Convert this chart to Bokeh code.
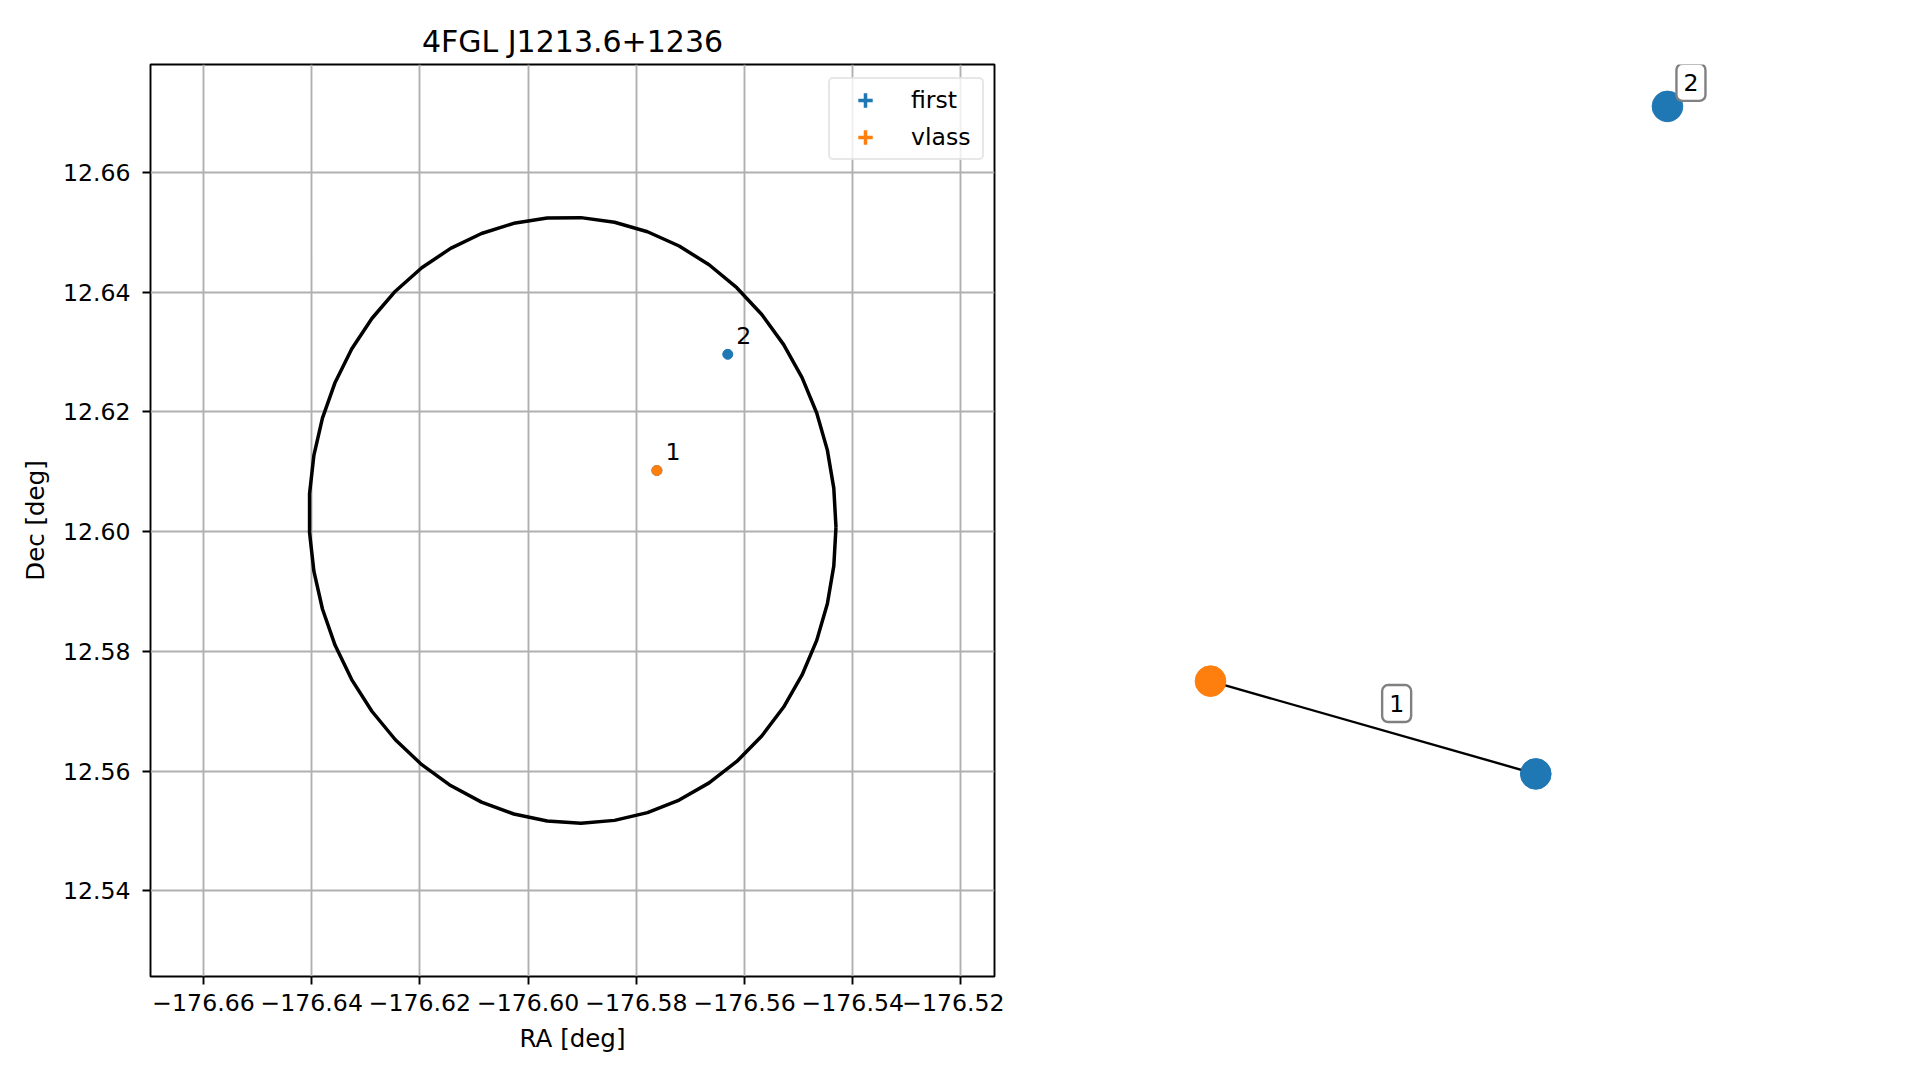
import numpy as np
from bokeh.plotting import figure
from bokeh.models import Range1d, Legend, LegendItem, Label, ColumnDataSource, FixedTicker
from bokeh.layouts import row
from bokeh.embed import file_html
from bokeh.resources import INLINE
from bokeh.core.properties import value

# ---------------- data ----------------
TITLE = "4FGL J1213.6+1236"
first_ra = [-176.5762, -176.5631]
first_dec = [12.6102, 12.6296]
first_ids = ["1", "2"]
vlass_ra = [-176.5762]
vlass_dec = [12.6102]
vlass_ids = ["1"]

# 95% confidence ellipse of the 4FGL source
ell_center_ra = -176.5918
ell_center_dec = 12.6019
ell_half_ra = 0.0487      # half width in RA
ell_half_dec = 0.05059    # half height in Dec
ell_tilt_dec = -0.00117   # Dec offset of the RA-extreme points (tilt)
ell_npts = 50

x_ticks = [-176.66, -176.64, -176.62, -176.60, -176.58, -176.56, -176.54, -176.52]
y_ticks = [12.54, 12.56, 12.58, 12.60, 12.62, 12.64, 12.66]
x_lim = (-176.6698, -176.5138)
y_lim = (12.5257, 12.6780)

# match graph (layout positions of nodes)
node_names = ["vlass 1", "first 1", "first 2"]
node_kind = ["vlass", "first", "first"]
node_x = [-1.0, 0.413, 0.985]
node_y = [-0.722, -1.0, 1.0]
edge_src = [0, 2]
edge_dst = [1, 2]
edge_labels = ["1", "2"]

BLUE = "#1f77b4"
ORANGE = "#ff7f0e"
FONT = "DejaVu Sans"
FS = "23.6px"
FS_LAB = "24.5px"

# ---------------- left panel ----------------
p = figure(width=1004, height=1063, output_backend="svg", toolbar_location=None,
           x_range=Range1d(*x_lim), y_range=Range1d(*y_lim),
           min_border_left=150, min_border_right=10, min_border_top=64, min_border_bottom=87,
           title=TITLE)
p.title.align = "center"
p.title.text_font = FONT
p.title.text_font_size = "30px"
p.title.text_font_style = "normal"
p.title.text_color = "black"
p.title.standoff = 11

p.outline_line_color = "black"
p.outline_line_width = 1.9
p.outline_line_alpha = 1.0

p.xaxis.ticker = FixedTicker(ticks=x_ticks)
p.yaxis.ticker = FixedTicker(ticks=y_ticks)
p.xaxis.major_label_overrides = {t: ("\u2212%.2f" % abs(t)) for t in x_ticks}
p.yaxis.major_label_overrides = {t: ("%.2f" % t) for t in y_ticks}
p.xaxis.axis_label = "RA [deg]"
p.yaxis.axis_label = "Dec [deg]"
for ax in (p.xaxis[0], p.yaxis[0]):
    ax.axis_line_color = None
    ax.major_tick_in = 0
    ax.major_tick_out = 8
    ax.major_tick_line_width = 1.9
    ax.major_tick_line_color = "black"
    ax.minor_tick_line_color = None
    ax.major_label_text_font = FONT
    ax.major_label_text_font_size = FS
    ax.major_label_text_color = "black"
    ax.axis_label_text_font = FONT
    ax.axis_label_text_font_size = FS_LAB
    ax.axis_label_text_font_style = "normal"
    ax.axis_label_text_color = "black"
    ax.axis_label_standoff = 10
p.xaxis.major_label_standoff = 9
p.yaxis.major_label_standoff = 12

p.grid.grid_line_color = "#b0b0b0"
p.grid.grid_line_width = 1.9

# ellipse outline
t = np.linspace(0, 2 * np.pi, ell_npts)
ex = ell_center_ra + ell_half_ra * np.cos(t)
ey = ell_center_dec + ell_half_dec * np.sin(t) + ell_tilt_dec * np.cos(t)
p.line(ex, ey, line_color="black", line_width=3.5)

fsrc = ColumnDataSource(dict(x=first_ra, y=first_dec, t=first_ids))
vsrc = ColumnDataSource(dict(x=vlass_ra, y=vlass_dec, t=vlass_ids))

# error-bar style handles (used by the legend) + visible points
f_cross = p.scatter("x", "y", source=fsrc, marker="cross", size=0, line_color=BLUE, line_width=3.5)
f_dot = p.scatter("x", "y", source=fsrc, marker="dot", size=0, line_color=BLUE, fill_color=BLUE, line_width=3)
p.scatter("x", "y", source=fsrc, marker="circle", size=10, fill_color=BLUE, line_color=BLUE)
v_cross = p.scatter("x", "y", source=vsrc, marker="cross", size=0, line_color=ORANGE, line_width=3.5)
v_dot = p.scatter("x", "y", source=vsrc, marker="dot", size=0, line_color=ORANGE, fill_color=ORANGE, line_width=3)
p.scatter("x", "y", source=vsrc, marker="circle", size=10, fill_color=ORANGE, line_color=ORANGE)

# text labels next to the points (first source 1 sits under vlass 1)
p.text("x", "y", text="t", source=ColumnDataSource(dict(x=first_ra[1:], y=first_dec[1:], t=first_ids[1:])),
       x_offset=16, y_offset=-18.5, text_font=value(FONT), text_font_size=FS,
       text_align="center", text_baseline="middle", text_color="black")
p.text("x", "y", text="t", source=vsrc,
       x_offset=16, y_offset=-18.5, text_font=value(FONT), text_font_size=FS,
       text_align="center", text_baseline="middle", text_color="black")

legend = Legend(items=[LegendItem(label="first", renderers=[f_cross, f_dot]),
                       LegendItem(label="vlass", renderers=[v_cross, v_dot])],
                location=(678, 816))
legend.margin = 0
legend.padding = 3
legend.spacing = 1
legend.glyph_height = 36
legend.glyph_width = 64
legend.label_standoff = 14
legend.label_width = 68
legend.label_text_font = FONT
legend.label_text_font_size = FS
legend.label_text_color = "black"
legend.border_line_color = "#d0d0d0"
legend.border_line_width = 2.4
legend.background_fill_alpha = 0.8
try:
    legend.border_radius = 5
except Exception:
    pass
p.add_layout(legend)

# ---------------- right panel (match graph) ----------------
q = figure(width=899, height=1063, output_backend="svg", toolbar_location=None,
           x_range=Range1d(-1.8949, 2.0104), y_range=Range1d(-1.6069, 1.1256),
           min_border_left=0, min_border_right=0, min_border_top=64, min_border_bottom=87)
q.axis.visible = False
q.grid.visible = False
q.outline_line_color = None

ex0 = [node_x[s] for s, d in zip(edge_src, edge_dst) if s != d]
ey0 = [node_y[s] for s, d in zip(edge_src, edge_dst) if s != d]
ex1 = [node_x[d] for s, d in zip(edge_src, edge_dst) if s != d]
ey1 = [node_y[d] for s, d in zip(edge_src, edge_dst) if s != d]
q.segment(ex0, ey0, ex1, ey1, line_color="black", line_width=2.4)

ncol = [ORANGE if k == "vlass" else BLUE for k in node_kind]
q.scatter(node_x, node_y, size=30.7, fill_color=ncol, line_color=ncol)

for s, d, lab in zip(edge_src, edge_dst, edge_labels):
    mx = 0.5 * (node_x[s] + node_x[d])
    my = 0.5 * (node_y[s] + node_y[d])
    q.add_layout(Label(x=mx, y=my, text=lab, x_offset=23.5, y_offset=24,
                       text_align="center", text_baseline="middle",
                       text_font=FONT, text_font_size=FS, text_color="black",
                       background_fill_color="white", background_fill_alpha=1.0,
                       border_line_color="#808080", border_line_width=2.4,
                       padding=dict(x=7, y=10), border_radius=6))

layout = row(p, q, spacing=0)
open("out.html", "w").write(file_html(layout, INLINE))
